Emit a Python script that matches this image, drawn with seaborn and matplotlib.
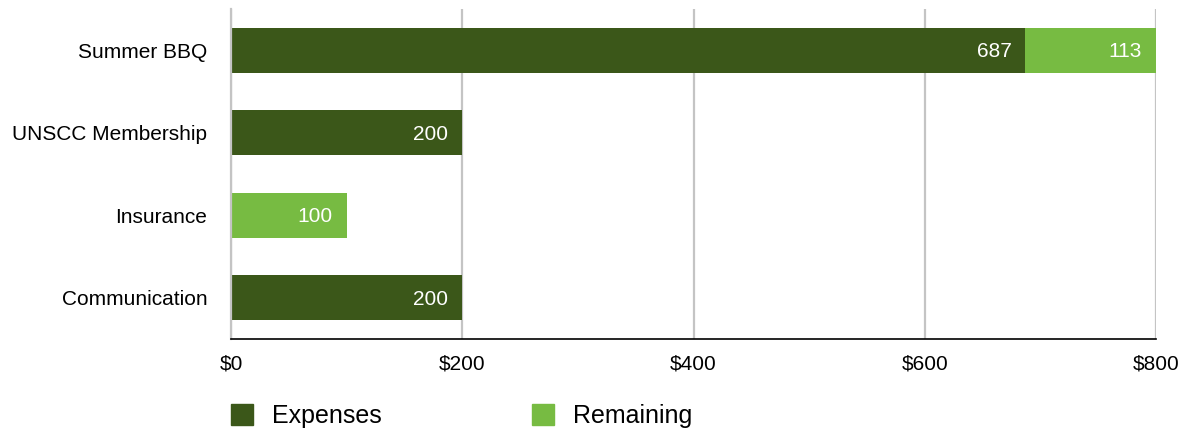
import matplotlib
matplotlib.use("Agg")
import matplotlib.pyplot as plt
from matplotlib.patches import Patch
import seaborn as sns
import pandas as pd

categories = ["Summer BBQ", "UNSCC Membership", "Insurance", "Communication"]
expenses = [687, 200, 0, 200]
remaining = [113, 0, 100, 0]
xticks = [0, 200, 400, 600, 800]
xtick_labels = ["$0", "$200", "$400", "$600", "$800"]

dark = "#3B5719"
light = "#77BB42"

sns.set_theme(style="white")
plt.rcParams["font.family"] = ["Liberation Sans", "DejaVu Sans"]
plt.rcParams["text.color"] = "black"
plt.rcParams["xtick.color"] = "black"
plt.rcParams["ytick.color"] = "black"

totals = [e + r for e, r in zip(expenses, remaining)]
df = pd.DataFrame({"category": categories, "expenses": expenses,
                   "remaining": remaining, "total": totals})

fig = plt.figure(figsize=(11.81, 4.28), dpi=100)
ax = fig.add_axes([231 / 1181, 89 / 428, 925 / 1181, 330 / 428])

sns.barplot(data=df, y="category", x="total", color=light, orient="h",
            width=0.54, ax=ax, saturation=1, linewidth=0)
sns.barplot(data=df, y="category", x="expenses", color=dark, orient="h",
            width=0.54, ax=ax, saturation=1, linewidth=0)

for i, (e, r) in enumerate(zip(expenses, remaining)):
    if e > 0:
        ax.annotate(str(e), xy=(e, i), xytext=(-10, -1), textcoords="offset points",
                    ha="right", va="center", color="white", fontsize=15)
    if r > 0:
        ax.annotate(str(r), xy=(e + r, i), xytext=(-10, -1), textcoords="offset points",
                    ha="right", va="center", color="white", fontsize=15)

ax.set_xlim(0, 800)
ax.set_ylim(3.5, -0.5)
ax.set_xticks(xticks)
ax.set_xticklabels(xtick_labels, fontsize=15)
ax.tick_params(axis="x", length=0, pad=11, colors="black")
ax.tick_params(axis="y", length=0, pad=17, labelsize=15, colors="black")
ax.set_xlabel("")
ax.set_ylabel("")
ax.xaxis.grid(True, color="#C4C4C4", linewidth=1.6)
ax.set_axisbelow(True)
for s in ["top", "right"]:
    ax.spines[s].set_visible(False)
ax.spines["left"].set_color("#C4C4C4")
ax.spines["left"].set_linewidth(1.6)
ax.spines["bottom"].set_color("black")
ax.spines["bottom"].set_linewidth(1.2)

handles = [Patch(color=dark, label="Expenses"), Patch(color=light, label="Remaining")]
fig.legend(handles=handles, loc="center left", bbox_to_anchor=(231 / 1181, 12 / 428),
           ncol=2, frameon=False, fontsize=18, handlelength=0.88, handleheight=0.88,
           handletextpad=0.76, columnspacing=6.0, borderpad=0, borderaxespad=0,
           labelcolor="black")

fig.savefig("out.png", dpi=100)
